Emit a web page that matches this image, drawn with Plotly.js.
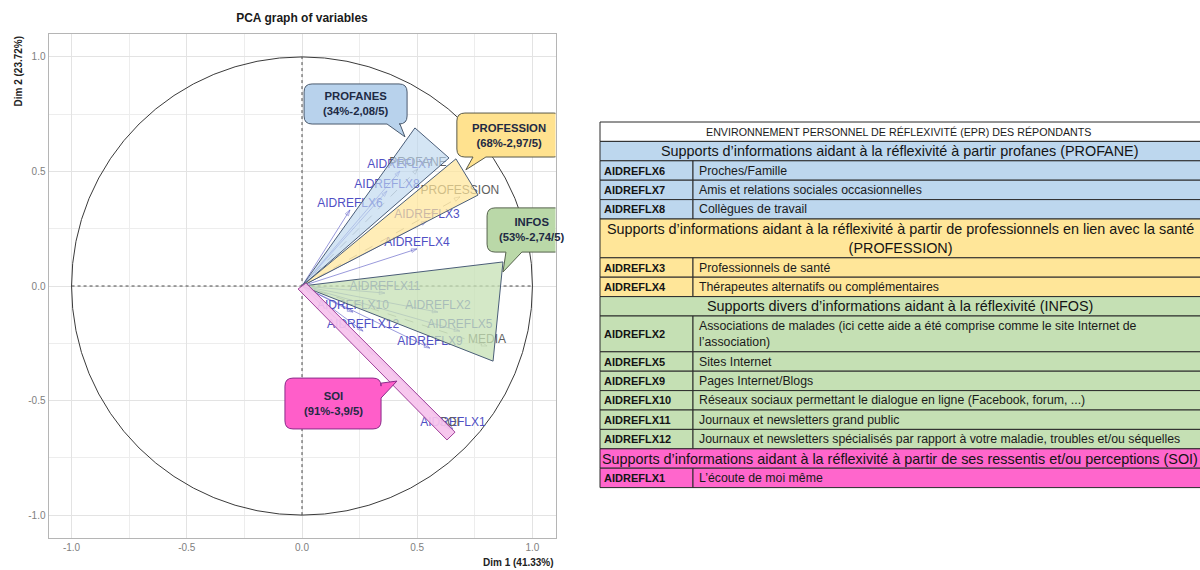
<!DOCTYPE html>
<html>
<head>
<meta charset="utf-8">
<script src="https://cdn.plot.ly/plotly-3.0.1.min.js"></script>
<style>body{margin:0;background:#fff}</style>
</head>
<body>
<div id="chart" style="width:1200px;height:570px"></div>
<script>
// PCA variable coordinates (Dim 1, Dim 2)
const activeVars = ['AIDREFLX1','AIDREFLX2','AIDREFLX3','AIDREFLX4','AIDREFLX5','AIDREFLX6',
                    'AIDREFLX7','AIDREFLX8','AIDREFLX9','AIDREFLX10','AIDREFLX11','AIDREFLX12'];
const activeDim1 = [0.655, 0.590, 0.542, 0.499, 0.685, 0.208, 0.425, 0.369, 0.555, 0.221, 0.360, 0.265];
const activeDim2 = [-0.625, -0.114, 0.284, 0.162, -0.197, 0.332, 0.502, 0.415, -0.271, -0.114, -0.031, -0.197];
// supplementary variables
const suppVars = ['PROFANE','PROFESSION','MEDIA','SOI'];
const suppDim1 = [0.503, 0.685, 0.803, 0.640];
const suppDim2 = [0.511, 0.389, -0.262, -0.625];

// groups drawn over the graph (wedges + callouts)
const groupNames = ['PROFANES','PROFESSION','INFOS','SOI'];
const groupStats = ['(34%-2,08/5)','(68%-2,97/5)','(53%-2,74/5)','(91%-3,9/5)'];
const wedgeDim1 = [[0, 0.490, 0.638], [0, 0.668, 0.764], [0, 0.872, 0.829], [-0.017, 0.017, 0.664, 0.629]];
const wedgeDim2 = [[0, 0.690, 0.559], [0, 0.555, 0.397], [0, 0.105, -0.328], [-0.013, 0.013, -0.638, -0.672]];
// callout boxes: [x0, x1, yTop, yBottom], tail side, tail base, tail tip
const calloutBox = [[0.009, 0.456, 0.882, 0.707], [0.672, 1.128, 0.755, 0.563],
                    [0.803, 1.197, 0.341, 0.148], [-0.074, 0.343, -0.402, -0.624]];
const calloutSide = ['bottom','bottom','bottom','right'];
const calloutBase = [[0.369, 0.425], [0.742, 0.798], [0.885, 0.954], [-0.424, -0.489]];
const calloutTip = [[0.447, 0.651], [0.711, 0.507], [0.872, 0.061], [0.412, -0.415]];

// table on the right
const tableTitle = 'ENVIRONNEMENT PERSONNEL DE RÉFLEXIVITÉ (EPR) DES RÉPONDANTS';
const groupTitles = [
  'Supports d’informations aidant à la réflexivité à partir profanes (PROFANE)',
  'Supports d’informations aidant à la réflexivité à partir de professionnels en lien avec la santé<br>(PROFESSION)',
  'Supports divers d’informations aidant à la réflexivité (INFOS)',
  'Supports d’informations aidant à la réflexivité à partir de ses ressentis et/ou perceptions (SOI)'
];
const groupCodes = [
  ['AIDREFLX6','AIDREFLX7','AIDREFLX8'],
  ['AIDREFLX3','AIDREFLX4'],
  ['AIDREFLX2','AIDREFLX5','AIDREFLX9','AIDREFLX10','AIDREFLX11','AIDREFLX12'],
  ['AIDREFLX1']
];
const groupItems = [
  ['Proches/Famille','Amis et relations sociales occasionnelles','Collègues de travail'],
  ['Professionnels de santé','Thérapeutes alternatifs ou complémentaires'],
  ['Associations de malades (ici cette aide a été comprise comme le site Internet de<br>l’association)',
   'Sites Internet','Pages Internet/Blogs',
   'Réseaux sociaux permettant le dialogue en ligne (Facebook, forum, ...)',
   'Journaux et newsletters grand public',
   'Journaux et newsletters spécialisés par rapport à votre maladie, troubles et/ou séquelles'],
  ['L’écoute de moi même']
];

// styles
const varBlue = '#4f4fc4';
const suppGrey = '#5e5e5e';
const wedgeFill = ['rgba(189,215,238,0.65)','rgba(255,230,153,0.7)','rgba(197,224,180,0.75)','rgba(246,194,237,0.92)'];
const wedgeLine = ['#4a5d78','#4a5d78','#4a5d78','#a0409a'];
const calloutFill = ['#b8d2ec','#ffe28f','#bad8a8','#ff5ec9'];
const calloutLine = ['#4a5a6e','#5a5a4a','#55624c','#8a2c8a'];
const tableFill = ['#bdd7ee','#ffe699','#c5e0b4','#ff66cc'];
const tableFont = 'Liberation Sans, Arial, sans-serif';

let traces = [];
let shapes = [];
let annotations = [];

// arrows ---------------------------------------------------------------
function arrowTrace(x, y, color, dash){
  return {
    x: [0, x], y: [0, y], mode: 'lines+markers', type: 'scatter',
    line: {color: color, width: 0.7, dash: dash},
    marker: {symbol: ['circle','arrow-open'], size: [0, 6], angleref: 'previous',
             color: color, line: {color: color, width: 0.8}},
    hoverinfo: 'skip'
  };
}
for(let i=0; i<activeVars.length; i++){
  traces.push(arrowTrace(activeDim1[i], activeDim2[i], '#6d6dcc', 'solid'));
}
for(let i=0; i<suppVars.length; i++){
  traces.push(arrowTrace(suppDim1[i], suppDim2[i], '#8a8a8a', 'dash'));
}
// labels
traces.push({
  x: activeDim1, y: activeDim2, text: activeVars, mode: 'text', type: 'scatter',
  textposition: 'top center', textfont: {size: 12, color: varBlue, family: tableFont},
  hoverinfo: 'skip'
});
traces.push({
  x: suppDim1, y: suppDim2, text: suppVars, mode: 'text', type: 'scatter',
  textposition: 'top center', textfont: {size: 12, color: suppGrey, family: tableFont},
  hoverinfo: 'skip'
});
// wedges over the labels (semi transparent)
for(let g=0; g<wedgeDim1.length; g++){
  traces.push({
    x: wedgeDim1[g].concat([wedgeDim1[g][0]]), y: wedgeDim2[g].concat([wedgeDim2[g][0]]),
    mode: 'lines', type: 'scatter', fill: 'toself', fillcolor: wedgeFill[g],
    line: {color: wedgeLine[g], width: 1}, hoverinfo: 'skip'
  });
}
// empty trace so the table axes exist
traces.push({x: [0], y: [0], xaxis: 'x2', yaxis: 'y2', mode: 'markers', marker: {opacity: 0}, hoverinfo: 'skip'});

// circle + dashed axes ---------------------------------------------------
shapes.push({type: 'circle', xref: 'x', yref: 'y', x0: -1, x1: 1, y0: -1, y1: 1,
             line: {color: '#3a3a3a', width: 1}, layer: 'between'});
shapes.push({type: 'line', xref: 'x', yref: 'y', x0: 0, x1: 0, y0: -1, y1: 1,
             line: {color: '#4a4a4a', width: 1, dash: '3px,3px'}, layer: 'between'});
shapes.push({type: 'line', xref: 'x', yref: 'y', x0: -1, x1: 1, y0: 0, y1: 0,
             line: {color: '#4a4a4a', width: 1, dash: '3px,3px'}, layer: 'between'});

// callouts ---------------------------------------------------------------
function calloutPath(b, side, base, tip){
  const x0=b[0], x1=b[1], yt=b[2], yb=b[3], r=0.035;
  let p = 'M'+(x0+r)+','+yt;
  p += ' L'+(x1-r)+','+yt+' Q'+x1+','+yt+' '+x1+','+(yt-r);
  if(side==='right') p += ' L'+x1+','+base[0]+' L'+tip[0]+','+tip[1]+' L'+x1+','+base[1];
  p += ' L'+x1+','+(yb+r)+' Q'+x1+','+yb+' '+(x1-r)+','+yb;
  if(side==='bottom') p += ' L'+base[1]+','+yb+' L'+tip[0]+','+tip[1]+' L'+base[0]+','+yb;
  p += ' L'+(x0+r)+','+yb+' Q'+x0+','+yb+' '+x0+','+(yb+r);
  p += ' L'+x0+','+(yt-r)+' Q'+x0+','+yt+' '+(x0+r)+','+yt+' Z';
  return p;
}
for(let g=0; g<groupNames.length; g++){
  const b = calloutBox[g];
  shapes.push({type: 'path', xref: 'x', yref: 'y', layer: 'above',
               path: calloutPath(b, calloutSide[g], calloutBase[g], calloutTip[g]),
               fillcolor: calloutFill[g], line: {color: calloutLine[g], width: 1}});
  annotations.push({xref: 'x', yref: 'y', x: (b[0]+b[1])/2, y: (b[2]+b[3])/2,
                    text: '<b>'+groupNames[g]+'</b><br><b>'+groupStats[g]+'</b>',
                    showarrow: false, font: {size: 11.3, color: '#1e2a44', family: tableFont}});
}

// axis titles
annotations.push({xref: 'paper', yref: 'paper', x: 556/1200, y: 1-562/570, xanchor: 'right', yanchor: 'middle',
                  text: '<b>Dim 1 (41.33%)</b>', showarrow: false, font: {size: 10, color: '#222', family: tableFont}});
annotations.push({xref: 'paper', yref: 'paper', x: 18/1200, y: 1-34/570, xanchor: 'center', yanchor: 'top',
                  textangle: -90, text: '<b>Dim 2 (23.72%)</b>', showarrow: false,
                  font: {size: 10, color: '#222', family: tableFont}});

// table -----------------------------------------------------------------
const rowUnit = 19.4, tableTop = 122, tableLeft = 600, codeSplit = 693, tableRight = 1205;
const border = {color: '#2a2a2a', width: 1};
function cell(x0, x1, y0, y1, fill){
  shapes.push({type: 'rect', xref: 'x2', yref: 'y2', x0: x0, x1: x1, y0: y0, y1: y1,
               fillcolor: fill, line: border, layer: 'above'});
}
let yCur = tableTop;
cell(tableLeft, tableRight, yCur, yCur+rowUnit, '#ffffff');
annotations.push({xref: 'x2', yref: 'y2', x: 898, y: yCur+rowUnit/2, text: tableTitle, showarrow: false,
                  font: {size: 10.7, color: '#1a1a1a', family: tableFont}});
yCur += rowUnit;
for(let g=0; g<groupTitles.length; g++){
  const n = groupTitles[g].split('<br>').length;
  cell(tableLeft, tableRight, yCur, yCur+n*rowUnit, tableFill[g]);
  annotations.push({xref: 'x2', yref: 'y2', x: 900, y: yCur+n*rowUnit/2, text: groupTitles[g],
                    showarrow: false, font: {size: 14.4, color: '#141414', family: tableFont}});
  yCur += n*rowUnit;
  for(let i=0; i<groupCodes[g].length; i++){
    const m = groupItems[g][i].split('<br>').length;
    const h = m*rowUnit - (m>1 ? 3 : 0);
    cell(tableLeft, codeSplit, yCur, yCur+h, tableFill[g]);
    cell(codeSplit, tableRight, yCur, yCur+h, tableFill[g]);
    annotations.push({xref: 'x2', yref: 'y2', x: tableLeft+2, y: yCur+h/2, xanchor: 'left',
                      text: '<b>'+groupCodes[g][i]+'</b>', showarrow: false,
                      font: {size: 11, color: '#141414', family: tableFont}});
    annotations.push({xref: 'x2', yref: 'y2', x: codeSplit+4, y: yCur+h/2, xanchor: 'left', align: 'left',
                      text: groupItems[g][i], showarrow: false,
                      font: {size: 12.3, color: '#1a1a1a', family: tableFont}});
    yCur += h;
  }
}

const gridAxis = {
  range: [-1.1, 1.1], tickmode: 'array', tickvals: [-1, -0.5, 0, 0.5, 1],
  ticktext: ['-1.0','-0.5','0.0','0.5','1.0'], ticks: '', zeroline: false,
  showgrid: true, gridcolor: '#e3e3e3', gridwidth: 1,
  minor: {tick0: 0, dtick: 0.25, showgrid: true, gridcolor: '#ededed', gridwidth: 1},
  showline: true, mirror: true, linecolor: '#b5b5b5', linewidth: 1,
  tickfont: {size: 10, color: '#808080', family: tableFont}, fixedrange: true
};

const layout = {
  width: 1200, height: 570,
  margin: {l: 0, r: 0, t: 0, b: 0},
  paper_bgcolor: '#ffffff', plot_bgcolor: 'rgba(0,0,0,0)',
  showlegend: false,
  font: {family: tableFont},
  title: {text: '<b>PCA graph of variables</b>', x: 302/1200, xanchor: 'center',
          y: 1-18/570, yanchor: 'middle', font: {size: 12, color: '#1a1a1a', family: tableFont}},
  xaxis: Object.assign({}, gridAxis, {domain: [48.5/1200, 555.5/1200], anchor: 'y'}),
  yaxis: Object.assign({}, gridAxis, {domain: [1-538/570, 1-34/570], anchor: 'x'}),
  xaxis2: {domain: [0, 1], range: [0, 1200], visible: false, anchor: 'y2', fixedrange: true},
  yaxis2: {domain: [0, 1], range: [570, 0], visible: false, anchor: 'x2', fixedrange: true},
  shapes: shapes,
  annotations: annotations
};

Plotly.newPlot('chart', traces, layout, {staticPlot: true, displayModeBar: false});
</script>
</body>
</html>
